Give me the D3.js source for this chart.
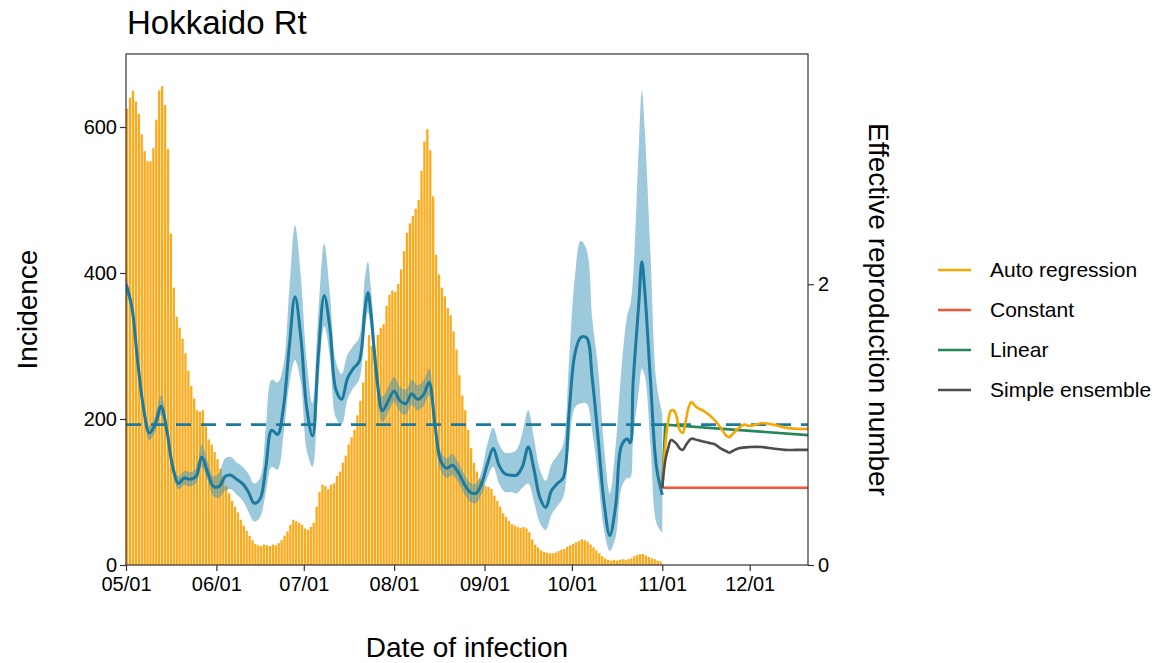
<!DOCTYPE html>
<html><head><meta charset="utf-8">
<script src="https://cdn.jsdelivr.net/npm/d3@7"></script>
<style>body{margin:0;background:#fff} text{font-family:Arial,"Liberation Sans",sans-serif;fill:#000}</style>
</head><body><svg id="c" width="1165" height="663"></svg>
<script>
// ---- data ----
const startDay = "2021-05-01";
const endDay = "2021-12-21";
// daily incidence from 05/01 (one value per day)
const incidence = [
 625,640,650,635,618,590,567,553,553,571,
 610,650,656,630,570,454,380,340,325,310,
 290,266,245,228,212,210,212,190,172,165,
 155,145,132,120,108,98,88,80,72,62,
 54,47,40,34,29,27,26,28,27,26,
 28,27,30,34,40,46,55,62,60,58,
 55,50,48,52,58,80,100,110,108,104,
 110,112,122,128,140,150,165,175,185,205,
 225,250,280,315,300,295,315,325,330,355,
 370,376,374,385,405,430,455,468,478,488,
 500,540,580,597,568,505,425,398,380,368,
 352,342,320,295,260,232,212,185,160,140,
 128,118,112,108,107,104,95,88,80,71,
 66,60,56,54,52,51,52,50,45,35,
 28,24,20,18,17,16,16,17,19,21,
 22,25,27,29,31,33,35,34,32,28,
 24,20,16,12,9,7,6,7,6,7,
 8,7,8,9,12,14,15,15,13,11,
 9,8,6,5
];
// Rt estimate: day offset from 05/01, mean, lower, upper
const rtDays = [0,2,4,6,8,10,12,14,16,18,20,22,24,26,28,30,32,34,36,38,40,42,44,46,48,50,52,54,56,58,60,62,64,66,68,70,72,74,76,78,80,82,83,84,86,88,90,92,94,96,98,100,102,104,106,108,110,112,114,116,118,120,122,124,126,128,130,132,134,136,138,140,142,144,146,148,150,152,154,156,158,160,162,164,166,168,170,172,173,174,176,177,178,180,182,184];
const rtMean = [2.00,1.84,1.45,1.12,0.94,1.00,1.13,0.96,0.70,0.58,0.62,0.61,0.63,0.77,0.66,0.56,0.56,0.63,0.64,0.61,0.58,0.52,0.44,0.47,0.70,0.96,0.93,1.12,1.55,1.91,1.62,1.12,0.92,1.50,1.92,1.68,1.25,1.18,1.33,1.40,1.45,1.82,1.94,1.80,1.35,1.10,1.17,1.24,1.17,1.15,1.22,1.18,1.21,1.30,1.00,0.74,0.69,0.71,0.66,0.58,0.52,0.51,0.58,0.72,0.83,0.71,0.65,0.64,0.64,0.70,0.84,0.68,0.48,0.41,0.53,0.58,0.62,1.08,1.50,1.62,1.62,1.32,0.90,0.45,0.21,0.42,0.85,0.90,0.87,1.30,1.88,2.16,1.95,1.30,0.70,0.50];
const rtLow  = [1.95,1.79,1.40,1.07,0.89,0.95,1.07,0.91,0.66,0.54,0.57,0.56,0.58,0.70,0.60,0.49,0.48,0.53,0.54,0.50,0.46,0.38,0.31,0.34,0.52,0.70,0.68,0.92,1.28,1.46,1.30,0.82,0.70,1.28,1.70,1.48,1.05,1.00,1.18,1.26,1.32,1.68,1.80,1.68,1.25,1.02,1.09,1.16,1.09,1.07,1.14,1.10,1.13,1.21,0.93,0.67,0.62,0.64,0.59,0.51,0.45,0.44,0.50,0.62,0.70,0.58,0.52,0.52,0.51,0.55,0.58,0.45,0.30,0.25,0.36,0.42,0.48,0.84,1.12,1.15,1.15,0.95,0.62,0.25,0.10,0.20,0.55,0.62,0.62,0.90,1.25,1.40,1.35,0.85,0.30,0.23];
const rtHigh = [2.05,1.89,1.50,1.17,0.99,1.06,1.21,1.02,0.75,0.63,0.67,0.66,0.69,0.86,0.74,0.63,0.66,0.76,0.77,0.73,0.70,0.65,0.58,0.62,0.98,1.32,1.30,1.42,1.95,2.42,2.05,1.45,1.15,1.80,2.29,1.92,1.45,1.36,1.50,1.56,1.62,2.05,2.16,1.98,1.47,1.20,1.27,1.34,1.27,1.25,1.32,1.28,1.31,1.40,1.08,0.81,0.76,0.79,0.73,0.65,0.59,0.58,0.67,0.86,0.98,0.86,0.80,0.80,0.82,0.94,1.10,0.90,0.68,0.60,0.72,0.78,0.86,1.45,2.05,2.31,2.25,1.75,1.40,0.85,0.51,0.85,1.40,1.78,1.85,2.05,3.00,3.38,3.10,2.20,1.30,1.08];
const thresholdRt = 1;
// forecasts (day offset from 05/01)
const arDays = [184,185,186,187,188,189,190,191,192,193,194,195,196,198,200,202,204,206,207,208,210,212,214,218,222,226,230,234];
const arRt   = [0.55,0.85,1.02,1.10,1.10,1.05,0.96,0.94,1.02,1.12,1.16,1.14,1.12,1.10,1.07,1.03,0.98,0.92,0.91,0.93,0.97,1.00,0.99,1.01,1.00,0.98,0.97,0.97];
const constDays = [184,234];
const constRt   = [0.55,0.55];
const linDays = [184,185,234];
const linRt   = [0.55,1.00,0.925];
const ensDays = [184,185,186,187,188,189,190,191,192,193,194,196,198,200,202,204,206,207,208,210,214,218,222,226,230,234];
const ensRt   = [0.55,0.74,0.83,0.89,0.88,0.86,0.83,0.82,0.85,0.88,0.90,0.89,0.88,0.87,0.86,0.83,0.81,0.80,0.81,0.83,0.84,0.84,0.83,0.82,0.82,0.82];
const yLeftTicks = [0,200,400,600];
const yRightTicks = [0,2];
const xTickDates = ["2021-05-01","2021-06-01","2021-07-01","2021-08-01","2021-09-01","2021-10-01","2021-11-01","2021-12-01"];
const legendLabels = ["Auto regression","Constant","Linear","Simple ensemble"];
const legendColors = ["#F5A700","#F4553A","#23875A","#4D4D4D"];

// ---- chart ----
const svg = d3.select("#c");
const L = 126, R = 808, T = 54, B = 565;
const parse = d3.utcParse("%Y-%m-%d");
const d0 = parse(startDay);
const dayToDate = d => d3.utcDay.offset(d0, d);
const x = d3.scaleUtc().domain([d0, parse(endDay)]).range([L, R]);
const yL = d3.scaleLinear().domain([0, 700]).range([B, T]);
const yR = d3.scaleLinear().domain([0, 3.64]).range([B, T]);

const g = svg.append("g");
g.append("clipPath").attr("id","clip").append("rect").attr("x",L).attr("y",T).attr("width",R-L).attr("height",B-T);
const plot = g.append("g").attr("clip-path","url(#clip)");

// bars
plot.selectAll("rect.bar").data(incidence).join("rect").attr("class","bar")
  .attr("x",(v,i)=>x(dayToDate(i)))
  .attr("width",(v,i)=>Math.max(0.5, x(dayToDate(i+1))-x(dayToDate(i))-0.6))
  .attr("y",v=>yL(v)).attr("height",v=>B-yL(v))
  .attr("fill","#FBAA1B");

// ribbon
const rt = rtDays.map((d,i)=>({d, m:rtMean[i], lo:rtLow[i], hi:rtHigh[i]}));
plot.append("path").datum(rt)
  .attr("d", d3.area().curve(d3.curveCatmullRom.alpha(0.5))
    .x(p=>x(dayToDate(p.d))).y0(p=>yR(p.lo)).y1(p=>yR(p.hi)))
  .attr("fill","#3A93B8").attr("fill-opacity",0.5);
plot.append("path").datum(rt)
  .attr("d", d3.line().curve(d3.curveCatmullRom.alpha(0.5))
    .x(p=>x(dayToDate(p.d))).y(p=>yR(p.m)))
  .attr("fill","none").attr("stroke","#1B7A9E").attr("stroke-width",3).attr("stroke-linejoin","round");

// threshold dashed
plot.append("line").attr("x1",L).attr("x2",R).attr("y1",yR(thresholdRt)).attr("y2",yR(thresholdRt))
  .attr("stroke","#1B7A9E").attr("stroke-width",2.6).attr("stroke-dasharray","15,10");

// forecasts
const fc = [
  {days:constDays, v:constRt, c:legendColors[1], curve:d3.curveLinear},
  {days:linDays, v:linRt, c:legendColors[2], curve:d3.curveLinear},
  {days:arDays, v:arRt, c:legendColors[0], curve:d3.curveCatmullRom.alpha(0.5)},
  {days:ensDays, v:ensRt, c:legendColors[3], curve:d3.curveCatmullRom.alpha(0.5)}
];
fc.forEach(f=>{
  plot.append("path").datum(f.days.map((d,i)=>[d,f.v[i]]))
    .attr("d", d3.line().curve(f.curve).x(p=>x(dayToDate(p[0]))).y(p=>yR(p[1])))
    .attr("fill","none").attr("stroke",f.c).attr("stroke-width",2.6);
});

// panel border
g.append("rect").attr("x",L).attr("y",T).attr("width",R-L).attr("height",B-T)
  .attr("fill","none").attr("stroke","#333").attr("stroke-width",1.2);

// axes
const fs = 20;
const axL = g.append("g").attr("transform",`translate(${L},0)`)
  .call(d3.axisLeft(yL).tickValues(yLeftTicks).tickSize(6).tickPadding(3));
const axR = g.append("g").attr("transform",`translate(${R},0)`)
  .call(d3.axisRight(yR).tickValues(yRightTicks).tickFormat(d3.format("d")).tickSize(6).tickPadding(4));
const axB = g.append("g").attr("transform",`translate(0,${B})`)
  .call(d3.axisBottom(x).tickValues(xTickDates.map(parse)).tickFormat(d3.utcFormat("%m/%d")).tickSize(6).tickPadding(6));
[axL,axR,axB].forEach(a=>{
  a.select(".domain").remove();
  a.selectAll(".tick line").attr("stroke","#333").attr("stroke-width",1.2);
  a.selectAll(".tick text").attr("font-size",fs).attr("font-family","Arial, 'Liberation Sans', sans-serif").attr("fill","#000");
});
axL.selectAll(".tick text").attr("dy","0.3em");

// titles
svg.append("text").attr("x",127).attr("y",34).attr("font-size",33).text("Hokkaido Rt");
svg.append("text").attr("transform",`translate(37,${(T+B)/2}) rotate(-90)`).attr("text-anchor","middle")
  .attr("font-size",28).text("Incidence");
svg.append("text").attr("transform",`translate(869,${(T+B)/2}) rotate(90)`).attr("text-anchor","middle")
  .attr("font-size",28).text("Effective reproduction number");
svg.append("text").attr("x",(L+R)/2).attr("y",657).attr("text-anchor","middle")
  .attr("font-size",28).text("Date of infection");

// legend
const lg = svg.append("g");
legendLabels.forEach((lab,i)=>{
  const yy = 270 + i*40;
  lg.append("line").attr("x1",938).attr("x2",971).attr("y1",yy).attr("y2",yy)
    .attr("stroke",legendColors[i]).attr("stroke-width",2.6);
  lg.append("text").attr("x",990).attr("y",yy).attr("dy","0.35em").attr("font-size",21).text(lab);
});
</script></body></html>
